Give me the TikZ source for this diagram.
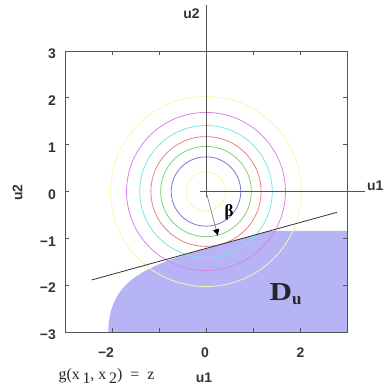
\documentclass[tikz,border=0pt]{standalone}
\usepackage{fontspec}
\setmainfont{Liberation Serif}
\newfontfamily\axfont{Liberation Sans}
\usetikzlibrary{arrows.meta}
\definecolor{regfill}{RGB}{182,180,245}
\definecolor{cyel}{RGB}{246,246,175}
\definecolor{cpur}{RGB}{210,135,228}
\definecolor{ccya}{RGB}{125,228,228}
\definecolor{cred}{RGB}{230,130,130}
\definecolor{cgre}{RGB}{125,210,125}
\definecolor{cblu}{RGB}{120,120,218}
\definecolor{axgray}{RGB}{85,85,85}
\begin{document}
\begin{tikzpicture}[x=47bp,y=46.8bp,
  contour/.style={line width=0.8bp},
  boxline/.style={draw=axgray,line width=0.8bp},
  ticklbl/.style={font=\axfont\bfseries\fontsize{14}{14}\selectfont,text=black!80,inner sep=0pt},
  axname/.style={font=\axfont\bfseries\fontsize{14}{14}\selectfont,text=black!80,inner sep=0pt},
  tangentline/.style={draw=black!80,line width=0.8bp},
  betaarrow/.style={draw=black!55,line width=0.6bp,-{Latex[length=7bp,width=6.5bp,color=black]}}]
\useasboundingbox (-206bp,-197.5bp) rectangle (179bp,191.5bp);
\coordinate (O) at (0,0);
% region D_u
\fill[regfill] (-2.08,-3) .. controls (-2.06,-1.85) and (-1.237,-1.559) .. (0.313,-1.13)
  -- (1.36,-0.84) -- (3,-0.84) -- (3,-3) -- cycle;
% contours
\draw[contour,cyel] (O) circle[radius=0.42];
\draw[contour,cblu] (O) circle[radius=0.74];
\draw[contour,cgre] (O) circle[radius=0.965];
\draw[contour,cred] (O) circle[radius=1.173];
\draw[contour,ccya] (O) circle[radius=1.41];
\draw[contour,cpur] (O) circle[radius=1.69];
\draw[contour,cyel] (O) circle[radius=2.03];
% box and ticks
\draw[boxline] (-3,-3) rectangle (3,3);
\foreach \t in {-3,...,3} {
  \draw[boxline] (\t,-3) -- ++(0,4bp);
  \draw[boxline] (\t,3) -- ++(0,-4bp);
  \draw[boxline] (-3,\t) -- ++(4bp,0);
  \draw[boxline] (3,\t) -- ++(-4bp,0);
}
% tick labels
\node[ticklbl,anchor=east] (y3) at (-150bp,{3*46.8bp-3bp}) {3};
\node[ticklbl,anchor=east] (y2) at (-150bp,{2*46.8bp-3bp}) {2};
\node[ticklbl,anchor=east] (y1) at (-150bp,{1*46.8bp-3bp}) {1};
\node[ticklbl,anchor=east] (y0) at (-150bp,-3bp) {0};
\node[ticklbl,anchor=east] (ym1) at (-150bp,{-1*46.8bp-3bp}) {−1};
\node[ticklbl,anchor=east] (ym2) at (-150bp,{-2*46.8bp-3bp}) {−2};
\node[ticklbl,anchor=east] (ym3) at (-150bp,{-3*46.8bp-3bp}) {−3};
\node[ticklbl] (xm2) at (-100bp,-161.5bp) {−2};
\node[ticklbl] (x0) at (-1bp,-161.5bp) {0};
\node[ticklbl] (x2) at (94.5bp,-161.5bp) {2};
\node[axname] (xlab) at (-2bp,-186.5bp) {u1};
\node[axname,rotate=90] (ylab) at (-188.5bp,-1bp) {u2};
% axes through origin
\coordinate (vtop) at (0,186.5bp);
\coordinate (vbot) at (0,-5.5bp);
\coordinate (hleft) at (-6bp,0);
\coordinate (hright) at (159bp,0);
\draw[draw=axgray,line width=0.8bp] (vtop) -- (vbot);
\draw[draw=axgray,line width=0.8bp] (hleft) -- (hright);
\node[axname] (u2top) at (-14.5bp,178bp) {u2};
\node[axname,anchor=west] (u1right) at (161bp,5.5bp) {u1};
% tangent line
\coordinate (L1) at (-2.43,-1.89);
\coordinate (L2) at (2.79,-0.444);
\draw[tangentline] (L1) -- (L2);
% beta arrow
\coordinate (tip) at (0.255,-0.955);
\draw[betaarrow] (O) -- (tip);
\node[inner sep=0pt,font=\bfseries\fontsize{17}{17}\selectfont] (beta) at (23bp,-20.5bp) {β};
% D_u label
\node[inner sep=0pt,font=\bfseries\fontsize{26}{26}\selectfont,text=black!85] (Du) at (79.5bp,-102.5bp)
  {\scalebox{1.2}[1]{D}\raisebox{-4bp}{\fontsize{17}{17}\selectfont u}};
% equation label
\node[inner sep=0pt,font=\fontsize{16}{16}\selectfont,text=black!85] (geq) at (-99.5bp,-184.5bp)
  {g(x\,\raisebox{-4bp}{1}, x\,\raisebox{-4bp}{2})\ \ =\ \ z};
\end{tikzpicture}
\end{document}
